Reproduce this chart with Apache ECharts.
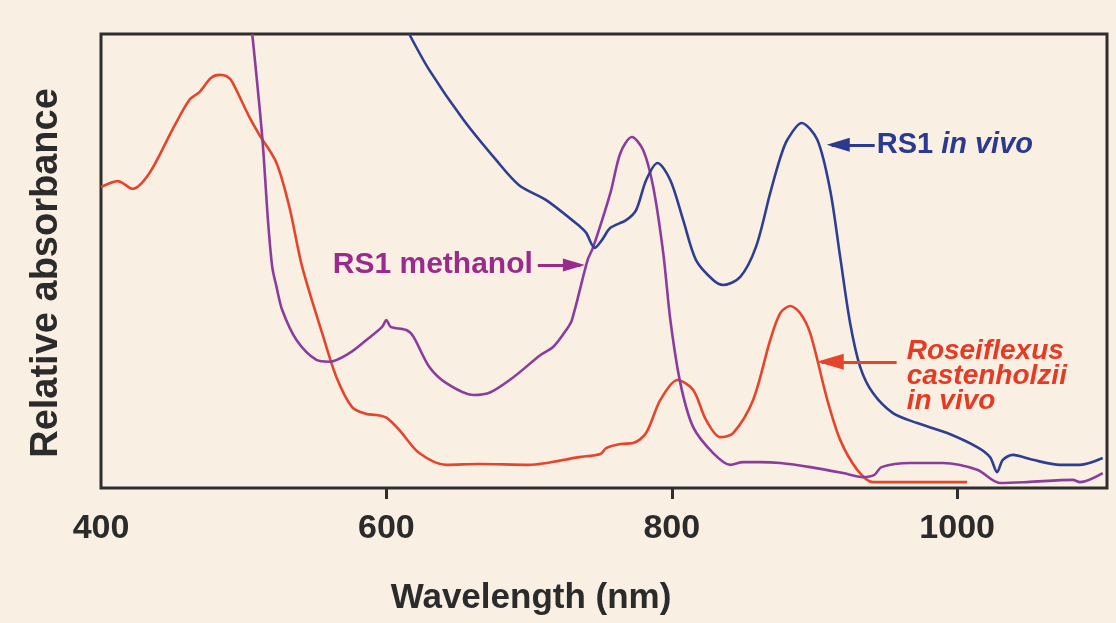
<!DOCTYPE html>
<html>
<head>
<meta charset="utf-8">
<script src="https://cdn.jsdelivr.net/npm/echarts@6/dist/echarts.min.js"></script>
<style>
html,body{margin:0;padding:0;background:#f9efe3;}
#c{width:1116px;height:623px;}
</style>
</head>
<body>
<div id="c"></div>
<script>
// Wavelength (nm) tick labels and tick marks
const xLabels = [400, 600, 800, 1000];
const xTickMarks = [600, 800, 1000];

// Roseiflexus castenholzii in vivo (red)
const roseWl  = [400,412,416,422,434,450,462,469,477,483,488,492,504,511,523,532,541,555,565,576,586,593,600,609,623,642,665,700,735,750,754,764,773,782,792,804,815,824,834,843,857,869,876,883,890,897,909,918,930,941,1007];
const roseAbs = [66.3,67.6,67.0,65.9,69.4,78.9,85.5,87.2,90.3,91.0,90.7,89.4,81.7,77.8,71.6,61.9,48.7,34.1,24.4,17.8,16.3,16.1,15.5,12.8,7.7,5.1,5.3,5.1,6.8,7.5,8.8,9.7,9.9,12.1,19.4,23.8,21.6,15.0,11.2,12.1,19.4,32.6,38.5,40.1,38.5,34.1,19.4,10.6,4.0,1.3,1.3];

// RS1 methanol (purple)
const methWl  = [506,513,517,520,523,527,537,551,560,574,586,597,600,603,614,619,630,642,661,673,689,708,717,726,730,741,745,757,764,772,780,787,794,799,806,815,829,841,850,862,876,897,920,934,942,947,967,990,1014,1030,1049,1081,1086,1102];
const methAbs = [100,77.3,59.0,48.7,44.3,39.2,32.6,28.2,27.8,29.7,32.6,35.5,37.0,35.5,34.8,33.3,26.7,23.1,20.5,21.1,24.4,29.3,31.1,34.8,37.0,50.2,53.1,65.0,73.8,77.3,74.4,66.3,51.8,37.0,23.1,13.4,7.7,5.1,5.7,5.7,5.5,4.6,3.3,2.4,2.9,4.6,5.5,5.5,4.0,1.1,1.3,1.8,1.3,3.3];

// RS1 in vivo (blue)
const vivoWl  = [616,630,654,677,693,712,736,740,746,751,757,768,775,782,790,799,808,817,829,836,848,859,869,876,881,891,902,911,918,925,932,941,955,972,993,1014,1023,1028,1032,1039,1053,1072,1086,1102];
const vivoAbs = [100,92.1,81.1,72.2,66.7,63.4,57.5,56.2,52.9,54.6,57.3,59.0,61.2,67.8,71.6,67.8,59.0,50.2,45.8,44.7,46.5,53.1,65.0,72.7,76.7,80.4,76.7,65.6,50.9,36.3,26.7,20.9,16.5,14.3,12.1,9.0,6.8,3.5,6.2,7.3,6.2,5.1,5.1,6.6];

const zip = (a, b) => a.map((v, i) => [v, b[i]]);

const FONT = "'Liberation Sans', Arial, Helvetica, sans-serif";
const RED = '#e5452c', PURPLE = '#8a3d9d', BLUE = '#2d3f92';
const RED_T = '#e43b25', PURPLE_T = '#9a2b8d', BLUE_T = '#2a3a8e';
const AXIS_T = '#2b2b2b';

const LEFT_TRI = 'path://M0,50 L100,0 L100,100 Z';
const RIGHT_TRI = 'path://M100,50 L0,0 L0,100 Z';

const chart = echarts.init(document.getElementById('c'), null, {renderer: 'canvas'});
chart.setOption({
  animation: false,
  backgroundColor: '#f9efe3',
  grid: {left: 101, right: 9, top: 34, bottom: 135, show: true, borderWidth: 3, borderColor: '#2e2e2e', backgroundColor: 'transparent'},
  graphic: [
    {type: 'text', x: 531, y: 598, silent: true,
      style: {text: 'Wavelength (nm)', textAlign: 'center', textVerticalAlign: 'middle',
        font: "bold 35px 'Liberation Sans', Arial, sans-serif", fill: AXIS_T}},
    {type: 'text', x: 47, y: 273, rotation: Math.PI / 2, silent: true,
      style: {text: 'Relative absorbance', textAlign: 'center', textVerticalAlign: 'middle',
        font: "bold 38px 'Liberation Sans', Arial, sans-serif", fill: AXIS_T}}
  ],
  xAxis: {
    type: 'value', min: 400, max: 1105, interval: 200,
    axisLine: {show: false},
    axisTick: {show: true, inside: false, length: 11, customValues: xTickMarks, lineStyle: {color: '#2e2e2e', width: 3}},
    axisLabel: {show: true, margin: 24, fontFamily: FONT, fontWeight: 'bold', fontSize: 34, color: AXIS_T,
      customValues: xLabels, formatter: v => String(v)},
    splitLine: {show: false}
  },
  yAxis: {
    type: 'value', min: 0, max: 100,
    axisLine: {show: false}, axisTick: {show: false}, axisLabel: {show: false}, splitLine: {show: false}
  },
  series: [
    {
      name: 'Roseiflexus castenholzii in vivo', type: 'line', data: zip(roseWl, roseAbs),
      showSymbol: false, smooth: 0.3, lineStyle: {color: RED, width: 2.6}, silent: true,
      markLine: {silent: true, symbol: ['none', 'none'], label: {show: false},
        lineStyle: {color: RED, width: 3, type: 'solid'},
        data: [[{coord: [957.6, 27.8]}, {coord: [905, 27.8]}]]},
      markPoint: {silent: true, data: [
        {coord: [901.6, 27.8], symbol: LEFT_TRI, symbolSize: [27, 16], symbolOffset: [13.5, 0], itemStyle: {color: RED}, label: {show: false}},
        {coord: [964.6, 24.5], symbol: 'circle', symbolSize: 0,
          label: {show: true, position: 'right', distance: 0, formatter: 'Roseiflexus\ncastenholzii\nin vivo',
            fontFamily: FONT, fontWeight: 'bold', fontStyle: 'italic', fontSize: 28, lineHeight: 25, color: RED_T, align: 'left'}}
      ]}
    },
    {
      name: 'RS1 methanol', type: 'line', data: zip(methWl, methAbs),
      showSymbol: false, smooth: 0.3, lineStyle: {color: PURPLE, width: 2.6}, silent: true,
      markLine: {silent: true, symbol: ['none', 'none'], label: {show: false},
        lineStyle: {color: PURPLE_T, width: 3, type: 'solid'},
        data: [[{coord: [706.1, 49.1]}, {coord: [736, 49.1]}]]},
      markPoint: {silent: true, data: [
        {coord: [739.1, 49.1], symbol: RIGHT_TRI, symbolSize: [22, 13], symbolOffset: [-11, 0], itemStyle: {color: PURPLE_T}, label: {show: false}},
        {coord: [702.6, 49.1], symbol: 'circle', symbolSize: 0,
          label: {show: true, position: 'left', distance: 0, formatter: 'RS1 methanol',
            fontFamily: FONT, fontWeight: 'bold', fontSize: 30, color: PURPLE_T}}
      ]}
    },
    {
      name: 'RS1 in vivo', type: 'line', data: zip(vivoWl, vivoAbs),
      showSymbol: false, smooth: 0.3, lineStyle: {color: BLUE, width: 2.6}, silent: true,
      markLine: {silent: true, symbol: ['none', 'none'], label: {show: false},
        lineStyle: {color: BLUE_T, width: 3, type: 'solid'},
        data: [[{coord: [942.2, 75.6]}, {coord: [912, 75.6]}]]},
      markPoint: {silent: true, data: [
        {coord: [908.6, 75.6], symbol: LEFT_TRI, symbolSize: [23, 14], symbolOffset: [11.5, 0], itemStyle: {color: BLUE_T}, label: {show: false}},
        {coord: [943.6, 75.6], symbol: 'circle', symbolSize: 0,
          label: {show: true, position: 'right', distance: 0, formatter: '{a|RS1 }{b|in vivo}',
            rich: {
              a: {fontFamily: FONT, fontWeight: 'bold', fontSize: 29, color: BLUE_T},
              b: {fontFamily: FONT, fontWeight: 'bold', fontStyle: 'italic', fontSize: 29, color: BLUE_T}
            }}}
      ]}
    }
  ]
});
</script>
</body>
</html>
